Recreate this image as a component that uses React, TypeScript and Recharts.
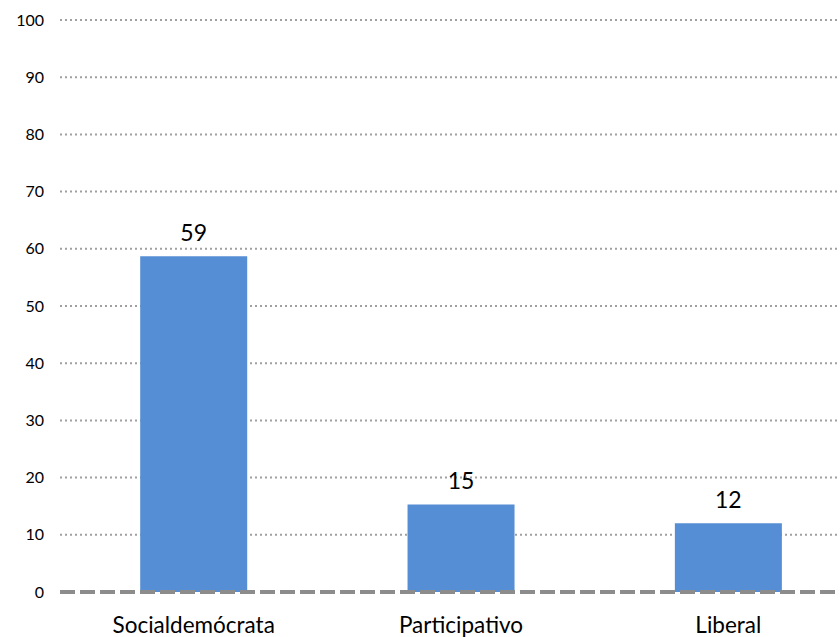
import { Bar, BarChart, CartesianGrid, LabelList, ReferenceLine, XAxis, YAxis } from "recharts"

const categories = ["Socialdemócrata", "Participativo", "Liberal"]
const values = [58.7, 15.3, 12.0]
const labels = ["59", "15", "12"]
const yTicks = [0, 10, 20, 30, 40, 50, 60, 70, 80, 90, 100]

const data = categories.map((name, i) => ({ name, value: values[i], label: labels[i] }))

const font = "Lato, 'Open Sans', sans-serif"

export default function App() {
  return (
    <div
      style={{
        position: "fixed",
        top: 0,
        left: 0,
        width: 840,
        height: 637,
        overflow: "hidden",
        background: "#fff",
      }}
    >
      <BarChart
        width={862}
        height={637}
        data={data}
        margin={{ top: 20, right: 0, left: 0, bottom: 0 }}
        barCategoryGap="30%"
      >
        {/* dotted grid, but not at 0 where the dashed baseline sits */}
        <CartesianGrid
          vertical={false}
          horizontalValues={yTicks.slice(1)}
          stroke="#a0a0a0"
          strokeWidth={2}
          strokeDasharray="2 3"
        />
        <XAxis
          dataKey="name"
          height={45}
          axisLine={false}
          tickLine={false}
          tickSize={0}
          tickMargin={25}
          tick={{ fill: "#000", fontSize: 22.5, fontFamily: font }}
        />
        <YAxis
          width={60}
          domain={[0, 100]}
          ticks={yTicks}
          axisLine={false}
          tickLine={false}
          tickSize={0}
          tickMargin={16}
          tick={{ fill: "#000", fontSize: 16, fontFamily: font }}
        />
        <Bar dataKey="value" fill="#558ed5" isAnimationActive={false}>
          <LabelList
            dataKey="label"
            position="top"
            offset={15}
            style={{ fill: "#000", fontSize: 23, fontFamily: font }}
          />
        </Bar>
        <ReferenceLine y={0} stroke="#8c8c8c" strokeWidth={4} strokeDasharray="15 5" />
      </BarChart>
    </div>
  )
}
